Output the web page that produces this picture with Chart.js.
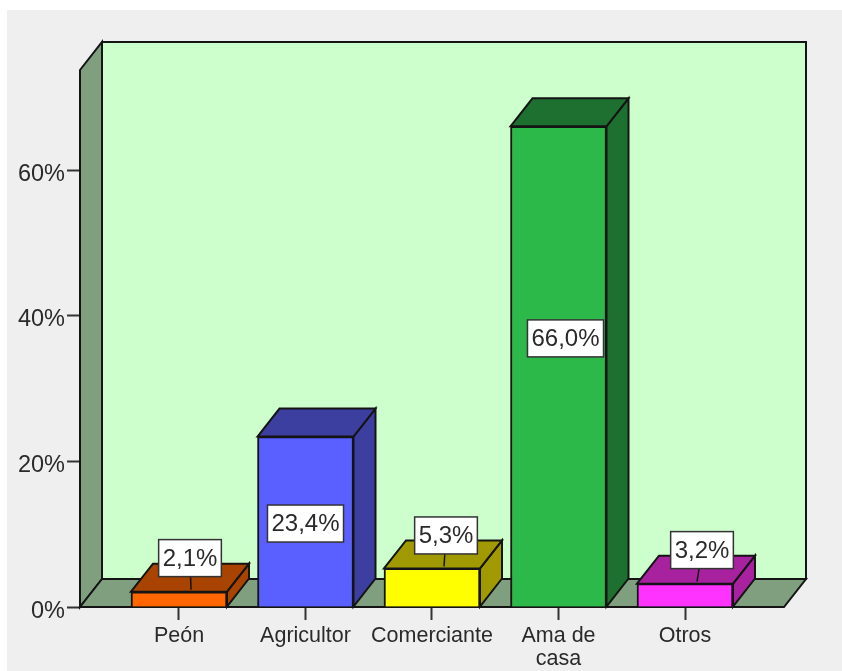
<!DOCTYPE html>
<html><head><meta charset="utf-8">
<style>
html,body{margin:0;padding:0;background:#fff;overflow:hidden}
#c{position:absolute;left:7px;top:10px;background:#efefef;filter:blur(0.5px)}
</style>
<script src="https://cdn.jsdelivr.net/npm/chart.js@4"></script>
</head><body>
<canvas id="c" width="835" height="661"></canvas>
<script>
const categories = ['Peón', 'Agricultor', 'Comerciante', ['Ama de', 'casa'], 'Otros'];
const percentages = [2.1, 23.4, 5.3, 66.0, 3.2];
const valueLabels = ['2,1%', '23,4%', '5,3%', '66,0%', '3,2%'];
const frontColors = ['#ff6600', '#5a5fff', '#ffff00', '#2db84a', '#ff33ff'];
const shadeColors = ['#a84400', '#3c3f9f', '#a09a00', '#1e7030', '#a822a0'];
const yTicks = [0, 20, 40, 60];

// drawing constants (not data)
const DX = 22, DY = -28, INK = '#141414';
const FONT = '"Liberation Sans", Arial, sans-serif';
const labelShift = [[11, -41], [0, 2], [14, -52], [7, -28], [17, -45]];
const hasLeader = [true, false, true, false, true];

function poly(ctx, pts, fill) {
  ctx.beginPath();
  pts.forEach((p, i) => i ? ctx.lineTo(p[0], p[1]) : ctx.moveTo(p[0], p[1]));
  ctx.closePath();
  if (fill) { ctx.fillStyle = fill; ctx.fill(); }
  ctx.stroke();
}

const box3d = {
  id: 'box3d',
  beforeDatasetsDraw(chart) {
    const { ctx, chartArea: a } = chart;
    const L = a.left, R = a.right, T = a.top, B = a.bottom;
    ctx.save();
    ctx.lineWidth = 2; ctx.strokeStyle = INK; ctx.lineJoin = 'miter';
    poly(ctx, [[L + DX, T + DY], [R + DX, T + DY], [R + DX, B + DY], [L + DX, B + DY]], '#ccffcc');
    poly(ctx, [[L, T], [L + DX, T + DY], [L + DX, B + DY], [L, B]], '#7f9f7f');
    poly(ctx, [[L, B], [L + DX, B + DY], [R + DX, B + DY], [R, B]], '#7f9f7f');
    chart.getDatasetMeta(0).data.forEach((bar, i) => {
      const w = bar.width / 2, l = bar.x - w, r = bar.x + w, t = bar.y, b = bar.base;
      poly(ctx, [[r, t], [r + DX, t + DY], [r + DX, b + DY], [r, b]], shadeColors[i]);
      poly(ctx, [[l, t], [l + DX, t + DY], [r + DX, t + DY], [r, t]], shadeColors[i]);
    });
    ctx.restore();
  },
  afterDatasetsDraw(chart) {
    const { ctx } = chart;
    ctx.save();
    ctx.font = '24px ' + FONT;
    ctx.textAlign = 'center'; ctx.textBaseline = 'middle';
    chart.getDatasetMeta(0).data.forEach((bar, i) => {
      const cx = bar.x + labelShift[i][0];
      const cy = (bar.y + bar.base) / 2 + labelShift[i][1];
      const tw = ctx.measureText(valueLabels[i]).width + 8, th = 37;
      if (hasLeader[i]) {
        ctx.strokeStyle = INK; ctx.lineWidth = 1.5;
        ctx.beginPath();
        ctx.moveTo(cx, cy);
        ctx.lineTo(bar.x + 12, bar.y - 2);
        ctx.stroke();
      }
      ctx.fillStyle = '#fff'; ctx.strokeStyle = '#333'; ctx.lineWidth = 1.5;
      ctx.fillRect(cx - tw / 2, cy - th / 2, tw, th);
      ctx.strokeRect(cx - tw / 2, cy - th / 2, tw, th);
      ctx.fillStyle = '#2a2a2a';
      ctx.fillText(valueLabels[i], cx, cy + 1);
    });
    ctx.restore();
  }
};

new Chart(document.getElementById('c'), {
  type: 'bar',
  plugins: [box3d],
  data: {
    datasets: [{
      data: percentages.map((v, i) => ({ x: i, y: v })),
      backgroundColor: frontColors,
      borderColor: INK,
      borderWidth: 2,
      barThickness: 96
    }]
  },
  options: {
    responsive: false,
    animation: false,
    events: [],
    layout: { padding: { top: 60, right: 58, left: 0, bottom: 0 } },
    plugins: { legend: { display: false }, tooltip: { enabled: false } },
    scales: {
      x: {
        type: 'linear',
        offset: false,
        min: -0.7826, max: 4.7826,
        afterBuildTicks(s) { s.ticks = categories.map((_, i) => ({ value: i })); },
        afterFit(s) { s.height = 64; },
        grid: { display: true, offset: false, drawOnChartArea: false, tickLength: 13, tickColor: '#333', tickWidth: 2 },
        border: { display: false },
        ticks: {
          autoSkip: false, maxRotation: 0, padding: 5,
          color: '#2a2a2a',
          font: { family: FONT, size: 21.5, lineHeight: 1.07 },
          callback: v => categories[v]
        }
      },
      y: {
        min: 0, max: 73.73,
        afterBuildTicks(s) { s.ticks = yTicks.map(v => ({ value: v })); },
        afterFit(s) { s.width = 73; },
        grid: { display: true, drawOnChartArea: false, tickLength: 13, tickColor: '#333', tickWidth: 2 },
        border: { display: false },
        ticks: {
          padding: 2,
          color: '#2a2a2a',
          font: { family: FONT, size: 23.5, lineHeight: 0.35 },
          callback: v => ['', v + '%']
        }
      }
    }
  }
});
</script>
</body></html>
